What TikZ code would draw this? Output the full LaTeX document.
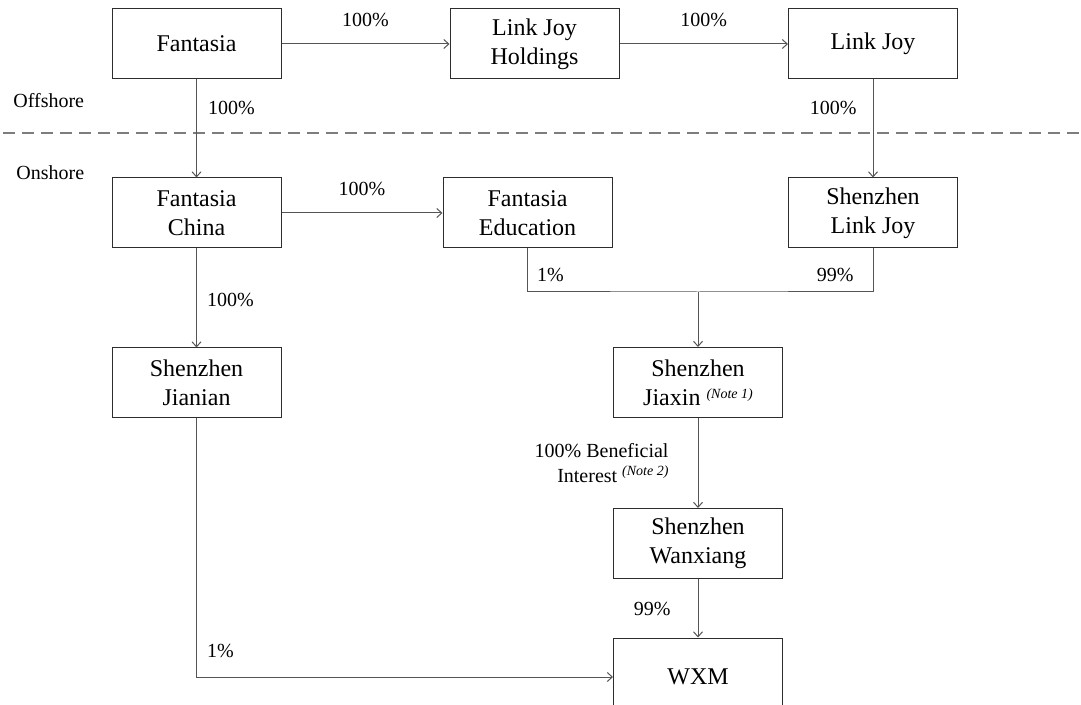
\documentclass[tikz,border=0pt]{standalone}
\usepackage{fontspec}
\setmainfont{Liberation Serif}
\usetikzlibrary{arrows.meta}
\definecolor{boxline}{RGB}{45,45,45}
\definecolor{linkline}{RGB}{85,85,85}
\definecolor{shoreline}{RGB}{125,125,125}
\newcommand{\notemark}[1]{\raisebox{3.5pt}{\fontsize{7}{8}\selectfont\itshape (#1)}}

\begin{document}
\begin{tikzpicture}[x=0.5pt,y=0.5pt]
    \tikzstyle{entity}=[draw=boxline, line width=0.5pt, minimum width=84.5pt, minimum height=35pt, align=center, inner sep=0pt, font=\fontsize{12}{14.5}\selectfont]
    \tikzstyle{pct}=[inner sep=0pt, font=\fontsize{10}{12.5}\selectfont]
    \tikzstyle{own}=[draw=linkline, line width=0.5pt, -{Straight Barb[length=2.5pt,width=4.5pt]}]
    \tikzstyle{joint}=[draw=linkline, line width=0.5pt]
    \useasboundingbox (0,0) rectangle (1081,-705);
    \clip (0,0) rectangle (1081,-705);
    \node [entity] (fantasia) at (196.5,-44) {Fantasia};
    \node [entity] (ljholdings) at (534.5,-44) {Link Joy\\Holdings};
    \node [entity] (linkjoy) at (873,-44) {Link Joy};
    \node [entity] (fchina) at (196.5,-213) {Fantasia\\China};
    \node [entity] (fedu) at (527.5,-213) {Fantasia\\Education};
    \node [entity] (sljoy) at (873,-213) {Shenzhen\\Link Joy};
    \node [entity] (jianian) at (196.5,-383) {Shenzhen\\Jianian};
    \node [entity] (jiaxin) at (698,-382.5) {Shenzhen\\Jiaxin \notemark{Note 1}};
    \node [entity] (wanxiang) at (698,-543.5) {Shenzhen\\Wanxiang};
    \node [entity, minimum height=39pt] (wxm) at (698,-677) {WXM};
    \coordinate (merge) at (698,-292);
    \draw [dashed, dash pattern=on 6pt off 3.5pt, draw=shoreline, line width=0.6pt] (3,-133) -- (1081,-133);
    \node [pct, anchor=west] (offshore) at (13,-101) {Offshore};
    \node [pct, anchor=west] (onshore) at (16,-173) {Onshore};
    \draw [own] (fantasia.east) -- node [pct, above=8.5pt] {100\%} (ljholdings.west);
    \draw [own] (ljholdings.east) -- node [pct, above=8.5pt] {100\%} (linkjoy.west);
    \draw [own] (fantasia.south) -- node [pct, pos=0.29, right=5.5pt] {100\%} (fchina.north);
    \draw [own] (linkjoy.south) -- node [pct, pos=0.29, left=8pt] {100\%} (sljoy.north);
    \draw [own] (fchina.east) -- node [pct, above=8.5pt] {100\%} (fedu.west);
    \draw [own] (fchina.south) -- node [pct, pos=0.52, right=5pt] {100\%} (jianian.north);
    \draw [joint] (fedu.south) |- node [pct, pos=0.3, right=4.5pt] {1\%} (merge) -| node [pct, pos=0.7, left=9.5pt] {99\%} (sljoy.south);
    \draw [own] (merge) -- (jiaxin.north);
    \draw [own] (jiaxin.south) -- node [pct, left=14.5pt, align=right] {100\% Beneficial\\Interest \notemark{Note 2}} (wanxiang.north);
    \draw [own] (wanxiang.south) -- node [pct, pos=0.52, left=13.5pt] {99\%} (wxm.north);
    \draw [own] (jianian.south) |- node [pct, pos=0.45, right=5pt] {1\%} (wxm.west);
\end{tikzpicture}
\end{document}
